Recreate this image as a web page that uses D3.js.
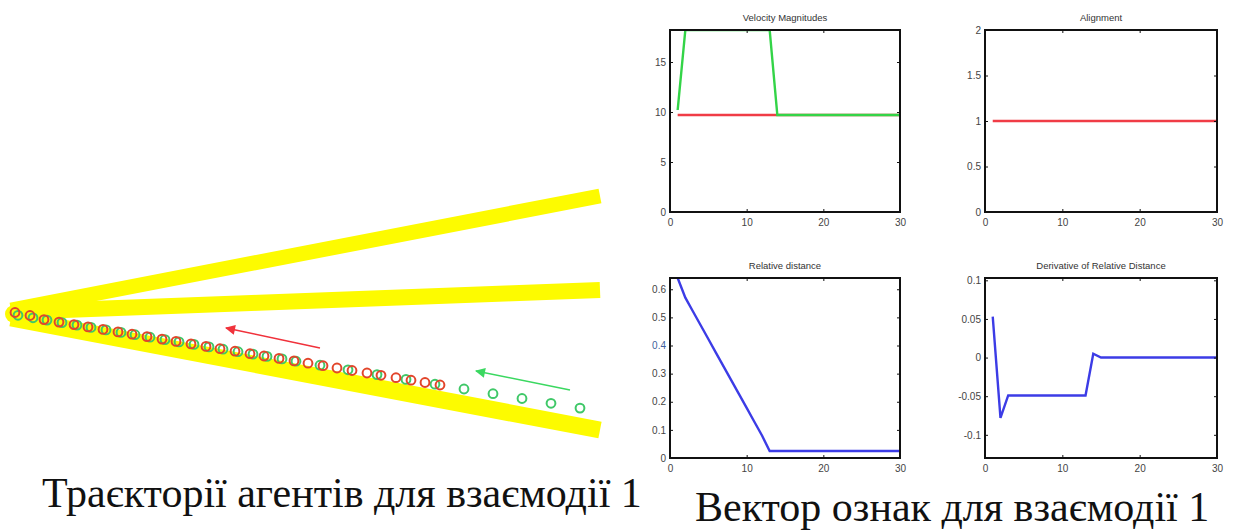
<!DOCTYPE html>
<html><head><meta charset="utf-8">
<script src="https://cdn.jsdelivr.net/npm/d3@7"></script>
<style>html,body{margin:0;padding:0;background:#fff;overflow:hidden}</style>
</head><body><svg id="c" width="1235" height="532"></svg>
<script>
// ---------- Trajectory data (world units) ----------
const redX = [44.0,42.5,41.1,39.6,38.1,36.7,35.2,33.7,32.3,30.8,29.4,27.9,26.4,25.0,23.5,22.0,20.6,19.1,17.6,16.2,14.7,13.2,11.8,10.3,8.8,7.4,5.9,4.4,3.0,1.5];
const redY = [38.5,38.25,38.02,37.77,37.53,37.3,37.05,36.8,36.57,36.32,36.09,35.84,35.6,35.37,35.12,34.87,34.64,34.39,34.14,33.91,33.66,33.42,33.19,32.94,32.69,32.46,32.21,31.96,31.55,31.25];
const greenX = [58.0,55.1,52.2,49.3,46.4,43.5,40.6,37.7,34.8,32.0,29.6,28.2,26.7,25.3,23.8,22.3,20.9,19.4,17.9,16.5,15.0,13.5,12.1,10.6,9.1,7.7,6.2,4.7,3.3,1.8];
const greenY = [40.81,40.33,39.85,39.37,38.9,38.42,37.94,37.46,36.98,36.52,36.12,35.89,35.64,35.41,35.17,34.92,34.69,34.44,34.19,33.96,33.72,33.47,33.24,32.99,32.74,32.51,32.26,32.01,31.78,31.53];
const roadTop = [[1.1,31.0],[60.0,19.6]];
const roadMid = [[1.1,31.2],[60.0,29.0]];
const roadBottom = [[1.1,31.8],[60.0,43.0]];
const redArrow = [[32.0,34.8],[22.6,32.8]];
const greenArrow = [[57.0,39.0],[47.6,37.1]];

// ---------- Feature vector data ----------
const timeSteps = [1,2,3,4,5,6,7,8,9,10,11,12,13,14,15,16,17,18,19,20,21,22,23,24,25,26,27,28,29,30];
const velRed = [9.7,9.7,9.7,9.7,9.7,9.7,9.7,9.7,9.7,9.7,9.7,9.7,9.7,9.7,9.7,9.7,9.7,9.7,9.7,9.7,9.7,9.7,9.7,9.7,9.7,9.7,9.7,9.7,9.7,9.7];
const velGreen = [10.2,18.2,18.2,18.2,18.2,18.2,18.2,18.2,18.2,18.2,18.2,18.2,18.2,9.7,9.7,9.7,9.7,9.7,9.7,9.7,9.7,9.7,9.7,9.7,9.7,9.7,9.7,9.7,9.7,9.7];
const alignment = [1,1,1,1,1,1,1,1,1,1,1,1,1,1,1,1,1,1,1,1,1,1,1,1,1,1,1,1,1,1];
const relDist = [0.64,0.57,0.521,0.472,0.423,0.374,0.325,0.276,0.227,0.178,0.129,0.08,0.025,0.025,0.025,0.025,0.025,0.025,0.025,0.025,0.025,0.025,0.025,0.025,0.025,0.025,0.025,0.025,0.025,0.025];
const relDistDeriv = [0.053,-0.078,-0.049,-0.049,-0.049,-0.049,-0.049,-0.049,-0.049,-0.049,-0.049,-0.049,-0.049,0.005,0,0,0,0,0,0,0,0,0,0,0,0,0,0,0,0];

const xTicks = [0,10,20,30];
const velTicks = [0,5,10,15];
const alignTicks = [0,0.5,1,1.5,2];
const relTicks = [0,0.1,0.2,0.3,0.4,0.5,0.6];
const derivTicks = [-0.1,-0.05,0,0.05,0.1];
const titles = ["Velocity Magnitudes","Alignment","Relative distance","Derivative of Relative Distance"];
const captions = ["Траєкторії агентів для взаємодії 1","Вектор ознак для взаємодії 1"];

const SERIF = '"Liberation Serif"';
const SANS = '"Liberation Sans"';

const svg = d3.select("#c");
svg.append("rect").attr("width",1235).attr("height",532).attr("fill","#fff");
const defs = svg.append("defs");
defs.append("filter").attr("id","soft").append("feGaussianBlur").attr("stdDeviation",0.6);

// ---------- Left: trajectories ----------
const tx = d3.scaleLinear().domain([0,61]).range([0,610]);
const ty = d3.scaleLinear().domain([0,53.2]).range([0,532]);
const left = svg.append("g").attr("filter","url(#soft)");
const roadLine = d3.line().x(d=>tx(d[0])).y(d=>ty(d[1]));
[[roadTop,15],[roadMid,16],[roadBottom,17]].forEach(([r,w])=>{
  left.append("path").attr("d",roadLine(r)).attr("stroke","#fdfb00").attr("stroke-width",w).attr("fill","none").attr("stroke-linecap","butt");
});
left.append("circle").attr("cx",tx(1.4)).attr("cy",ty(31.4)).attr("r",9).attr("fill","#fdfb00");

function circles(xs, ys, col){
  left.selectAll(null).data(xs).enter().append("circle")
    .attr("cx",(d,i)=>tx(d)).attr("cy",(d,i)=>ty(ys[i]))
    .attr("r",4.4).attr("fill","none").attr("stroke",col).attr("stroke-width",2);
}
circles(greenX, greenY, "#3fc868");
circles(redX, redY, "#e2452c");

function arrow(a, col, id){
  defs.append("marker").attr("id",id).attr("viewBox","0 0 10 10").attr("refX",9).attr("refY",5)
    .attr("markerWidth",14).attr("markerHeight",10).attr("markerUnits","userSpaceOnUse").attr("orient","auto")
    .append("path").attr("d","M0,0 L10,5 L0,10 Z").attr("fill",col);
  left.append("line").attr("x1",tx(a[0][0])).attr("y1",ty(a[0][1])).attr("x2",tx(a[1][0])).attr("y2",ty(a[1][1]))
    .attr("stroke",col).attr("stroke-width",1.5).attr("marker-end",`url(#${id})`);
}
arrow(redArrow,"#f0303a","ar");
arrow(greenArrow,"#3ad860","ag");

// ---------- Right: MATLAB-style subplots ----------
const RED="#f03c46", GREEN="#33d447", BLUE="#3c3ce6";
const panels = [
  {t:titles[0], x0:670,x1:900,y0:30,y1:212, yd:[0,18.2], yt:velTicks, s:[[velRed,RED],[velGreen,GREEN]]},
  {t:titles[1], x0:985,x1:1217,y0:30,y1:212, yd:[0,2], yt:alignTicks, s:[[alignment,RED]]},
  {t:titles[2], x0:670,x1:900,y0:278,y1:458, yd:[0,0.64], yt:relTicks, s:[[relDist,BLUE]], special:0.4},
  {t:titles[3], x0:985,x1:1217,y0:278,y1:458, yd:[-0.13,0.103], yt:derivTicks, s:[[relDistDeriv,BLUE]]}
];
panels.forEach((p,pi)=>{
  const x = d3.scaleLinear().domain([0,30]).range([p.x0,p.x1]);
  const y = d3.scaleLinear().domain(p.yd).range([p.y1,p.y0]);
  const g = svg.append("g");
  const cid = "clip"+pi;
  defs.append("clipPath").attr("id",cid).append("rect").attr("x",p.x0).attr("y",p.y0-1).attr("width",p.x1-p.x0).attr("height",p.y1-p.y0+1);
  const line = d3.line().x((d,i)=>x(timeSteps[i])).y(d=>y(d));
  p.s.forEach(([vals,col])=>{
    g.append("path").attr("d",line(vals)).attr("fill","none").attr("stroke",col).attr("stroke-width",2.4)
      .attr("clip-path",`url(#${cid})`);
  });
  const ax = d3.axisBottom(x).tickValues(xTicks).tickSize(-3).tickPadding(7).tickFormat(d=>String(d));
  const axT = d3.axisTop(x).tickValues(xTicks).tickSize(-3).tickFormat("");
  const ay = d3.axisLeft(y).tickValues(p.yt).tickSize(-3).tickPadding(4).tickFormat(d=>String(d));
  const ayR = d3.axisRight(y).tickValues(p.yt).tickSize(-3).tickFormat("");
  const gb = g.append("g").attr("transform",`translate(0,${p.y1})`).call(ax);
  const gt = g.append("g").attr("transform",`translate(0,${p.y0})`).call(axT);
  const gl = g.append("g").attr("transform",`translate(${p.x0},0)`).call(ay);
  const gr = g.append("g").attr("transform",`translate(${p.x1},0)`).call(ayR);
  [gb,gt,gl,gr].forEach(a=>{
    a.select(".domain").remove();
    a.selectAll(".tick line").attr("stroke","#111").attr("stroke-width",1);
    a.selectAll("text").attr("font-size",10).attr("fill","#444").style("font-family",SANS);
  });
  if(p.special!==undefined){
    gl.selectAll(".tick").filter(d=>d===p.special).select("text").attr("fill","#3e5f9c");
  }
  g.append("rect").attr("x",p.x0).attr("y",p.y0).attr("width",p.x1-p.x0).attr("height",p.y1-p.y0)
    .attr("fill","none").attr("stroke","#111").attr("stroke-width",2);
  g.append("text").attr("x",(p.x0+p.x1)/2).attr("y",p.y0-9).attr("text-anchor","middle")
    .style("font-family",SANS).attr("font-size",9.5).attr("fill","#333").text(p.t);
});

// ---------- Captions ----------
svg.append("text").attr("x",42).attr("y",507).style("font-family",SERIF)
  .style("font-size","42px").attr("fill","#111").text(captions[0]);
svg.append("text").attr("x",695).attr("y",521).style("font-family",SERIF)
  .style("font-size","42px").attr("fill","#111").text(captions[1]);
</script>
</body></html>
